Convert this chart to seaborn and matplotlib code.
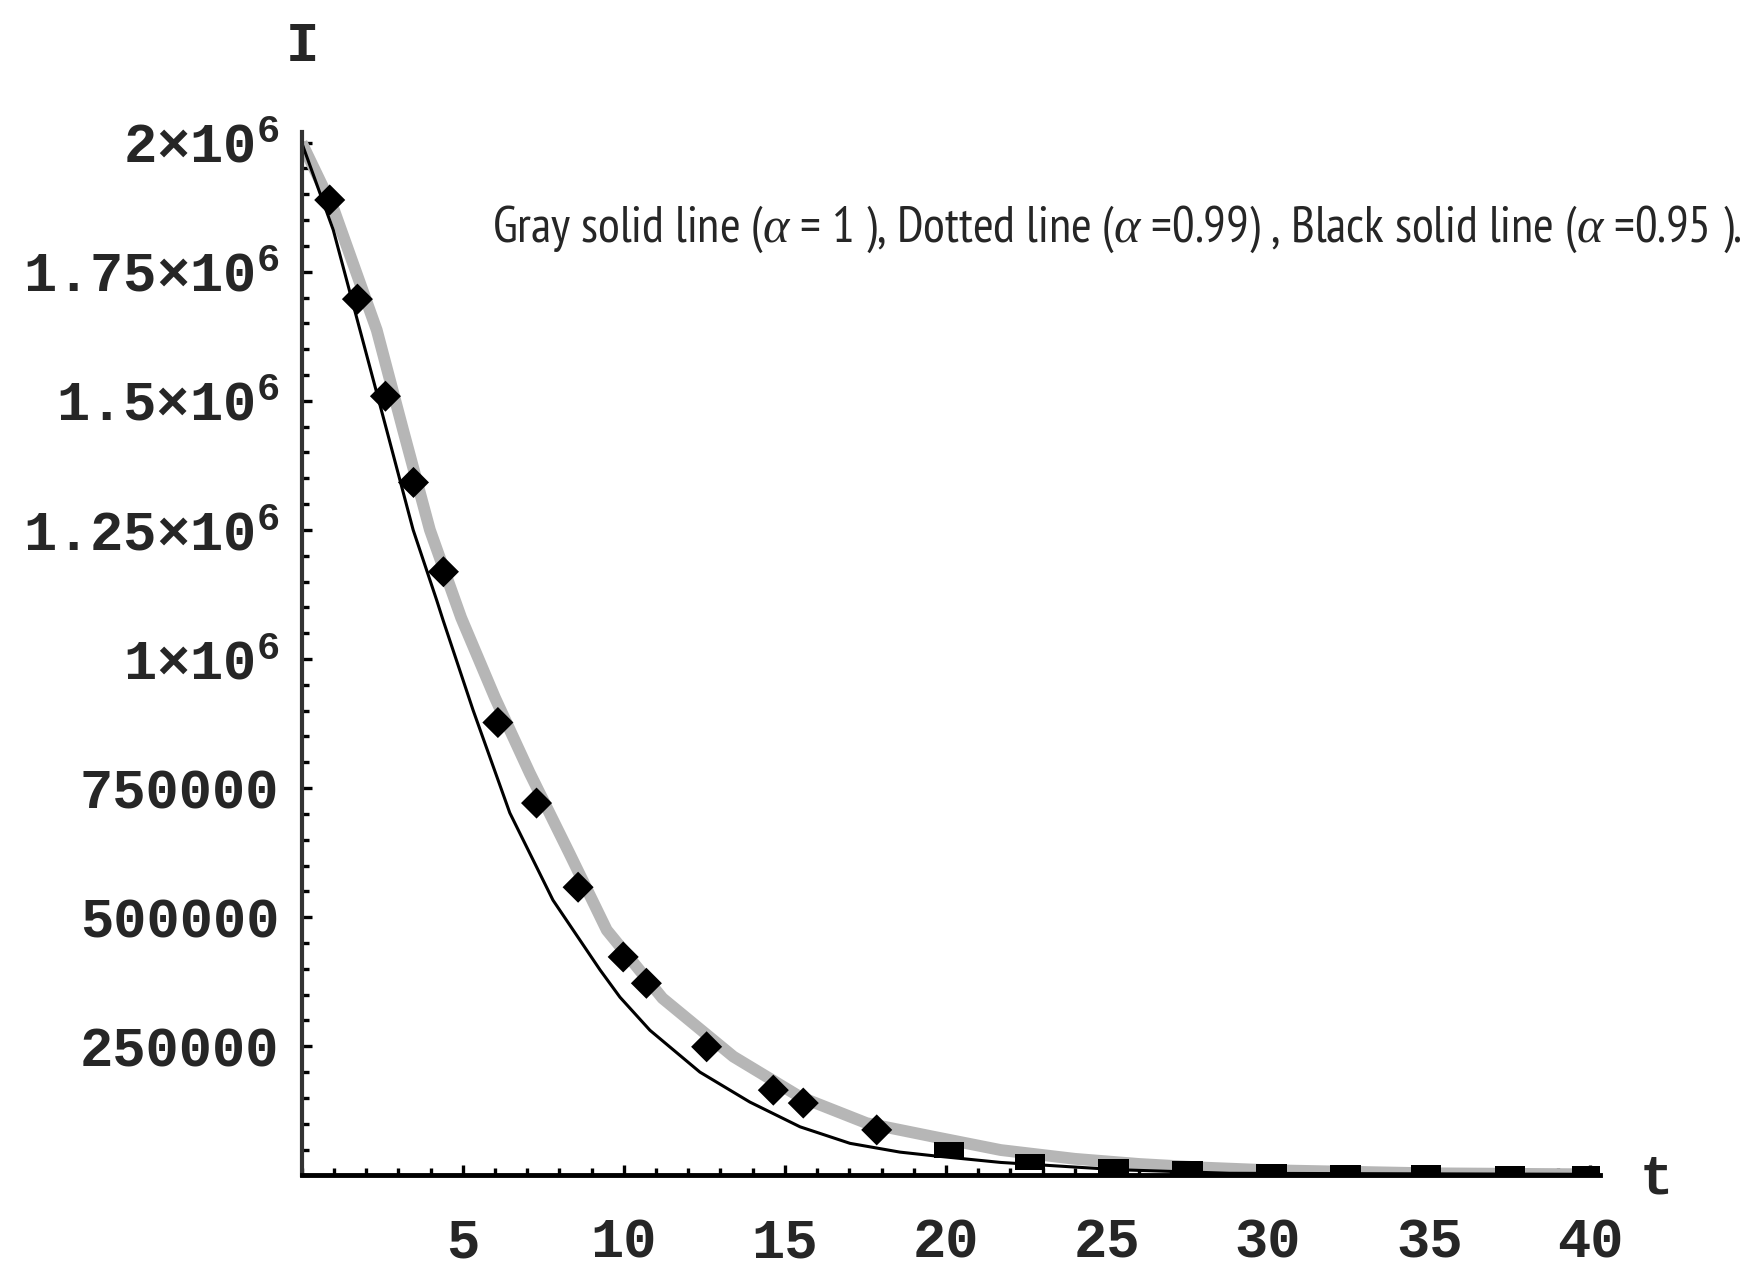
import matplotlib
matplotlib.use("Agg")
import matplotlib.pyplot as plt
from matplotlib.ticker import MultipleLocator, FixedLocator
from matplotlib import font_manager
import seaborn as sns
import pandas as pd

# ---- data ----
t_gray = [0, 1, 2.33, 3.15, 3.98, 4.95, 6.0, 7.08, 8.3, 9.47, 11.2, 13.4, 15.47, 17.54, 19.6,
          21.7, 24, 26, 28, 30, 35, 40]
i_gray = [2.0e6, 1.87e6, 1.637e6, 1.443e6, 1.25e6, 1.08e6, 0.925e6, 0.779e6, 0.625e6, 0.475e6,
          0.343e6, 0.230e6, 0.152e6, 0.101e6, 0.075e6, 0.049e6, 0.032e6, 0.022e6, 0.015e6,
          0.010e6, 0.004e6, 0.002e6]

t_black = [0, 0.98, 1.81, 2.64, 3.46, 4.19, 4.39, 5.32, 6.46, 7.80, 9.26, 9.88, 10.81, 12.36,
           13.91, 15.47, 17.02, 18.57, 19.6, 21.7, 25.3, 28.8, 40.0]
i_black = [2.0e6, 1.831e6, 1.637e6, 1.443e6, 1.250e6, 1.114e6, 1.075e6, 0.901e6, 0.702e6,
           0.533e6, 0.398e6, 0.345e6, 0.281e6, 0.200e6, 0.142e6, 0.094e6, 0.062e6, 0.045e6,
           0.038e6, 0.025e6, 0.011e6, 0.004e6, 0.002e6]

t_dots = [0.87, 1.73, 2.60, 3.47, 4.40, 6.09, 7.29, 8.58, 9.98, 10.7, 12.57, 14.64, 15.57,
          17.85, 20.1, 22.6, 25.2, 27.5, 30.1, 32.4, 34.9, 37.5, 39.9]
i_dots = [1.889e6, 1.697e6, 1.509e6, 1.342e6, 1.169e6, 0.877e6, 0.721e6, 0.558e6, 0.423e6,
          0.372e6, 0.249e6, 0.165e6, 0.140e6, 0.088e6, 0.049e6, 0.026e6, 0.015e6, 0.011e6,
          0.006e6, 0.004e6, 0.003e6, 0.002e6, 0.002e6]

x_ticks = [5, 10, 15, 20, 25, 30, 35, 40]
y_ticks = [250000, 500000, 750000, 1000000, 1250000, 1500000, 1750000, 2000000]
y_tick_labels = ["250000", "500000", "750000", r"$\mathregular{1{\times}10^{6}}$",
                 r"$\mathregular{1.25{\times}10^{6}}$", r"$\mathregular{1.5{\times}10^{6}}$",
                 r"$\mathregular{1.75{\times}10^{6}}$", r"$\mathregular{2{\times}10^{6}}$"]
note = (r"Gray solid line ($\alpha$ = 1 ), Dotted line ($\alpha$ =0.99) , "
        r"Black solid line ($\alpha$ =0.95 ).")

# ---- style ----
sns.set_style("white")
plt.rcParams["font.family"] = ["Liberation Mono", "DejaVu Sans"]
plt.rcParams["mathtext.fontset"] = "custom"
plt.rcParams["mathtext.rm"] = "Liberation Mono"
plt.rcParams["mathtext.it"] = "Liberation Serif:italic"


def pick_narrow_font():
    best = None
    best_score = -1
    for f in font_manager.fontManager.ttflist:
        low = (f.name + " " + str(f.stretch) + " " + f.fname).lower()
        if f.style != "normal":
            continue
        if f.weight not in (400, "normal", "regular", "book"):
            continue
        if "narrow" in low:
            score = 7
        elif "extra-condensed" in low or "extracondensed" in low:
            score = 6
        elif "ultra-condensed" in low or "ultracondensed" in low:
            score = 3
        elif "semi-condensed" in low or "semicondensed" in low:
            score = 2
        elif "condensed" in low:
            score = 4
        else:
            continue
        if "sans" in low or "roboto" in low or "arial" in low:
            score += 1
        if "mono" in low or "serif" in low.replace("sans", ""):
            score -= 3
        if score > best_score:
            best_score = score
            best = f.fname
    if best:
        return font_manager.FontProperties(fname=best)
    return font_manager.FontProperties(family=["Liberation Sans", "DejaVu Sans"])


fig = plt.figure(figsize=(17.52, 12.69), dpi=100)
ax = fig.add_axes([0.1722, 0.0738, 0.7410, 0.8219])

df_gray = pd.DataFrame({"t": t_gray, "I": i_gray})
df_black = pd.DataFrame({"t": t_black, "I": i_black})
df_dots = pd.DataFrame({"t": t_dots, "I": i_dots})
df_dots["shape"] = ["steep" if v < 19 else "flat" for v in df_dots["t"]]

sns.lineplot(data=df_gray, x="t", y="I", ax=ax, color="#b6b6b6", linewidth=8.5,
             solid_capstyle="butt", zorder=2)
sns.lineplot(data=df_black, x="t", y="I", ax=ax, color="black", linewidth=2.2, zorder=3)
rect = [(-1, -0.55), (1, -0.55), (1, 0.55), (-1, 0.55), (-1, -0.55)]
sns.scatterplot(data=df_dots, x="t", y="I", ax=ax, color="black", style="shape",
                markers={"steep": "D", "flat": rect}, size="shape",
                sizes={"steep": 250, "flat": 480}, linewidth=0, zorder=4, legend=False)

ax.set_xlim(0, 40.3)
ax.set_ylim(0, 2.02e6)
ax.set_xlabel("")
ax.set_ylabel("")

for s in ["top", "right"]:
    ax.spines[s].set_visible(False)
ax.spines["left"].set_linewidth(3)
ax.spines["left"].set_color("#333333")
ax.spines["bottom"].set_linewidth(3.5)
ax.spines["bottom"].set_color("black")
ax.spines["left"].set_zorder(5)
ax.spines["bottom"].set_zorder(5)

ax.xaxis.set_major_locator(FixedLocator(x_ticks))
ax.xaxis.set_minor_locator(MultipleLocator(1))
ax.yaxis.set_major_locator(FixedLocator(y_ticks))
ax.yaxis.set_minor_locator(MultipleLocator(50000))
ax.set_xticklabels([str(v) for v in x_ticks])
ax.set_yticklabels(y_tick_labels)
for lab in ax.get_xticklabels() + ax.get_yticklabels():
    lab.set_fontweight("bold")

ax.tick_params(axis="both", which="both", direction="in", color="black", width=2.4)
ax.tick_params(axis="both", which="major", length=7)
ax.tick_params(axis="both", which="minor", length=5)
ax.tick_params(axis="x", which="major", labelsize=40, pad=30)
ax.tick_params(axis="y", which="major", labelsize=40, pad=16)
ax.tick_params(bottom=True, left=True, top=False, right=False, which="both")

fig.text(302 / 1752, 1 - 47 / 1269, "I", ha="center", va="center", fontsize=40,
         fontweight="bold")
fig.text(1656 / 1752, 1 - 1179 / 1269, "t", ha="center", va="center", fontsize=40,
         fontweight="bold")

# annotation: fit to the reference width (about 1254 px) with the narrowest sans available
fp = pick_narrow_font()
fp.set_size(56)
txt = fig.text(492 / 1752, 1 - 229 / 1269, note, ha="left", va="center",
               fontproperties=fp)
fig.canvas.draw()
w = txt.get_window_extent(renderer=fig.canvas.get_renderer()).width
target_w = 1250.0
if w > target_w:
    txt.set_fontsize(56 * target_w / w)

fig.savefig("out.png", dpi=100)
